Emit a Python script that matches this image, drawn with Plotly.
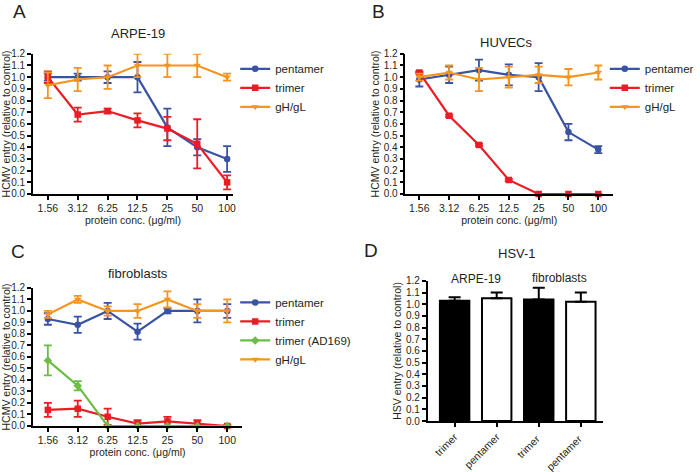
import plotly.graph_objects as go

conc = ['1.56', '3.12', '6.25', '12.5', '25', '50', '100']

# A: ARPE-19
a_pent = [1.0, 1.0, 1.0, 1.0, 0.57, 0.40, 0.30]
a_pent_err = [0.03, 0.03, 0.05, 0.13, 0.16, 0.07, 0.11]
a_tri = [1.0, 0.68, 0.71, 0.63, 0.56, 0.43, 0.10]
a_tri_err = [0.05, 0.06, 0.02, 0.06, 0.10, 0.21, 0.06]
a_gh = [0.93, 0.98, 1.0, 1.10, 1.10, 1.10, 1.0]
a_gh_err = [0.11, 0.10, 0.10, 0.10, 0.10, 0.10, 0.03]

# B: HUVECs
b_pent = [0.98, 1.02, 1.06, 1.02, 1.00, 0.53, 0.38]
b_pent_err = [0.06, 0.07, 0.09, 0.09, 0.12, 0.07, 0.03]
b_tri = [1.04, 0.67, 0.42, 0.12, 0.0, 0.0, 0.0]
b_tri_err = [0.01, 0.01, 0.01, 0.01, 0.0, 0.0, 0.0]
b_gh = [1.00, 1.04, 0.98, 1.00, 1.02, 1.00, 1.04]
b_gh_err = [0.03, 0.06, 0.10, 0.09, 0.07, 0.07, 0.06]

# C: fibroblasts
c_pent = [0.93, 0.88, 1.00, 0.82, 1.00, 1.00, 1.00]
c_pent_err = [0.05, 0.07, 0.07, 0.07, 0.02, 0.10, 0.06]
c_tri = [0.14, 0.15, 0.08, 0.02, 0.04, 0.02, 0.0]
c_tri_err = [0.06, 0.07, 0.07, 0.03, 0.04, 0.03, 0.01]
c_ad = [0.57, 0.35, 0.0, 0.0, 0.0, 0.0, 0.0]
c_ad_err = [0.13, 0.04, 0.0, 0.0, 0.0, 0.0, 0.0]
c_gh = [0.97, 1.10, 1.00, 1.00, 1.10, 1.00, 1.00]
c_gh_err = [0.03, 0.03, 0.04, 0.06, 0.07, 0.06, 0.10]

# D: HSV-1
d_labels = ['trimer', 'pentamer', 'trimer ', 'pentamer ']
d_vals = [1.03, 1.05, 1.04, 1.02]
d_err = [0.03, 0.05, 0.10, 0.08]
d_fill = ['black', 'white', 'black', 'white']
d_groups = ['ARPE-19', 'fibroblasts']

BLUE = '#3953a4'
RED = '#ed1c24'
GREEN = '#6abd45'
ORANGE = '#f7941d'
FONT = 'Liberation Sans, Arial, sans-serif'

fig = go.Figure()


def line(y, err, name, color, symbol, xa, ya, legend):
    fig.add_trace(go.Scatter(
        x=conc, y=y, name=name, mode='lines+markers',
        line=dict(color=color, width=2.2),
        marker=dict(color=color, symbol=symbol, size=6.5),
        error_y=dict(type='data', array=err, color=color, thickness=1.8, width=4),
        xaxis=xa, yaxis=ya, legend=legend, cliponaxis=False))


line(a_pent, a_pent_err, 'pentamer', BLUE, 'circle', 'x', 'y', 'legend')
line(a_tri, a_tri_err, 'trimer', RED, 'square', 'x', 'y', 'legend')
line(a_gh, a_gh_err, 'gH/gL', ORANGE, 'triangle-down', 'x', 'y', 'legend')

line(b_pent, b_pent_err, 'pentamer', BLUE, 'circle', 'x2', 'y2', 'legend2')
line(b_tri, b_tri_err, 'trimer', RED, 'square', 'x2', 'y2', 'legend2')
line(b_gh, b_gh_err, 'gH/gL', ORANGE, 'triangle-down', 'x2', 'y2', 'legend2')

line(c_pent, c_pent_err, 'pentamer', BLUE, 'circle', 'x3', 'y3', 'legend3')
line(c_tri, c_tri_err, 'trimer', RED, 'square', 'x3', 'y3', 'legend3')
line(c_ad, c_ad_err, 'trimer (AD169)', GREEN, 'diamond', 'x3', 'y3', 'legend3')
line(c_gh, c_gh_err, 'gH/gL', ORANGE, 'triangle-down', 'x3', 'y3', 'legend3')

fig.add_trace(go.Bar(
    x=d_labels, y=d_vals, width=0.7, showlegend=False,
    marker=dict(color=d_fill, line=dict(color='black', width=2)),
    error_y=dict(type='data', array=d_err, arrayminus=[0, 0, 0, 0], symmetric=False,
                 color='black', thickness=2, width=6),
    xaxis='x4', yaxis='y4'))

yticks = dict(tickmode='array', tickvals=[i / 10 for i in range(13)],
              ticktext=['%.1f' % (i / 10) for i in range(13)])


def xax(domain, rng, anchor):
    return dict(domain=domain, range=rng, anchor=anchor, showline=True, linecolor='black',
                linewidth=1.5, ticks='outside', ticklen=4, tickcolor='black', tickwidth=1.5,
                showgrid=False, zeroline=False, tickfont=dict(size=10.5), automargin=False,
                title=dict(text='protein conc. (μg/ml)', font=dict(size=10.5), standoff=0))


def yax(domain, anchor, title):
    return dict(domain=domain, range=[0, 1.2], anchor=anchor, showline=True, linecolor='black',
                linewidth=1.5, ticks='outside', ticklen=4, tickcolor='black', tickwidth=1.5,
                showgrid=False, zeroline=False, tickfont=dict(size=10), automargin=False,
                **yticks, title=dict(text=title, font=dict(size=10.5), standoff=2))


ya_dom = [0.589, 0.886]
yc_dom = [0.0975, 0.390]
yd_dom = [0.108, 0.405]

legend_style = dict(font=dict(size=11.5), bgcolor='rgba(0,0,0,0)', tracegroupgap=0,
                    itemwidth=30, yanchor='top', xanchor='left')


def label(text, x, y, size, xref='paper'):
    return dict(text=text, x=x, y=y, xref=xref, yref='paper', showarrow=False,
                font=dict(size=size), xanchor='center', yanchor='middle')


fig.update_layout(
    width=700, height=472,
    margin=dict(l=0, r=0, t=0, b=0),
    paper_bgcolor='white', plot_bgcolor='white',
    font=dict(family=FONT, color='#231f20'),
    xaxis=xax([0.047, 0.333], [-0.5, 6.2], 'y'),
    yaxis=yax(ya_dom, 'x', 'HCMV entry (relative to control)'),
    xaxis2=xax([0.579, 0.876], [-0.47, 6.5], 'y2'),
    yaxis2=yax(ya_dom, 'x2', 'HCMV entry (relative to control)'),
    xaxis3=xax([0.047, 0.346], [-0.5, 6.5], 'y3'),
    yaxis3=yax(yc_dom, 'x3', 'HCMV entry (relative to control)'),
    xaxis4=dict(domain=[0.611, 0.861], range=[-0.64, 3.52], anchor='y4', showline=True,
                linecolor='black', linewidth=1.5, ticks='outside', ticklen=4, tickcolor='black',
                tickwidth=1.5, tickangle=-45, tickfont=dict(size=10.5), showgrid=False,
                automargin=False),
    yaxis4=yax(yd_dom, 'x4', 'HSV entry (relative to control)'),
    legend=dict(x=0.336, y=0.885, **legend_style),
    legend2=dict(x=0.864, y=0.885, **legend_style),
    legend3=dict(x=0.336, y=0.39, **legend_style),
    annotations=[
        label('A', 0.028, 0.975, 19),
        label('B', 0.541, 0.975, 19),
        label('C', 0.025, 0.467, 19),
        label('D', 0.53, 0.47, 19),
        label('ARPE-19', 0.197, 0.93, 13),
        label('HUVECs', 0.724, 0.909, 13),
        label('fibroblasts', 0.197, 0.42, 13),
        label('HSV-1', 0.739, 0.462, 13),
        label(d_groups[0], 0.5, 0.409, 12, xref='x4'),
        label(d_groups[1], 2.5, 0.412, 12, xref='x4'),
    ],
)

# the page's default body margin would push the 700x472 figure off the window
fig.write_html('out.html', config={'displayModeBar': False},
               post_script="document.body.style.margin = '0';")
